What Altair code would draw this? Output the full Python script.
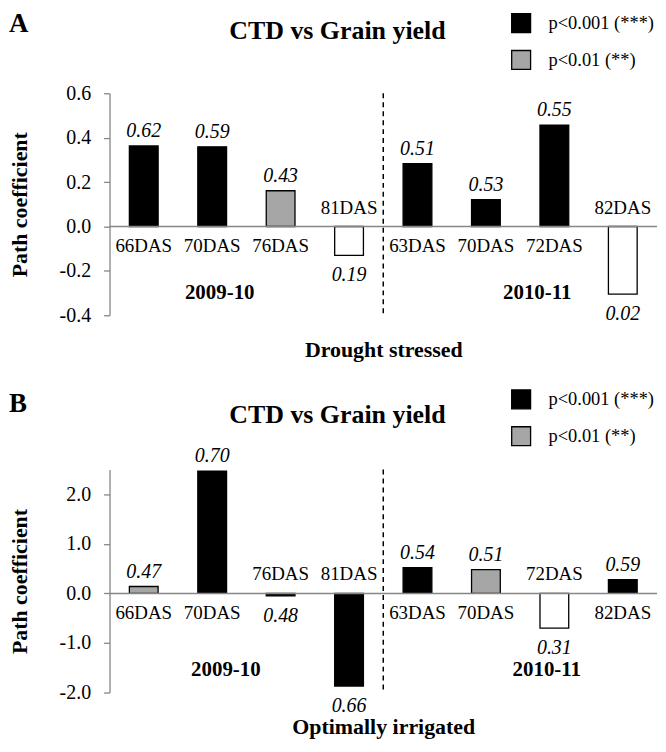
import altair as alt
import pandas as pd

# ---------------- data ----------------
stages = ["66DAS", "70DAS", "76DAS", "81DAS", "63DAS", "70DAS", "72DAS", "82DAS"]
seasons = ["2009-10", "2010-11"]

a_values = [0.363, 0.359, 0.161, -0.130, 0.283, 0.121, 0.457, -0.305]
a_labels = ["0.62", "0.59", "0.43", "0.19", "0.51", "0.53", "0.55", "0.02"]
a_sig = ["***", "***", "**", "ns", "***", "***", "***", "ns"]

b_values = [0.14, 2.47, -0.05, -1.87, 0.52, 0.48, -0.70, 0.28]
b_labels = ["0.47", "0.70", "0.48", "0.66", "0.54", "0.51", "0.31", "0.59"]
b_sig = ["**", "***", "***", "***", "***", "**", "ns", "***"]

sig_names = {"***": "p<0.001 (***)", "**": "p<0.01 (**)", "ns": "n.s."}
fill_domain = ["p<0.001 (***)", "p<0.01 (**)", "n.s."]
fill_range = ["#000000", "#a6a6a6", "#ffffff"]

FONT = "Liberation Serif"
GRAY = "#868686"
W = 550


def panel(values, labels, sig, ydomain, yticks, height, xtitle, letter,
          letter_y, title_y, year_x, year_y):
    df = pd.DataFrame({
        "stage": stages,
        "value": values,
        "label": labels,
        "sig": [sig_names[s] for s in sig],
        "pos": list(range(len(stages))),
    })
    df["x0"] = df["pos"] + 0.29
    df["x1"] = df["pos"] + 0.71
    df["xc"] = df["pos"] + 0.5
    df["zero"] = 0.0

    xs = alt.Scale(domain=[0, 8], nice=False, zero=False)
    ys = alt.Scale(domain=ydomain, nice=False, zero=False)

    x_axis = alt.Axis(title=xtitle, labels=False, ticks=False, domain=False,
                      grid=False, titleY=41, titleBaseline="alphabetic")
    y_axis = alt.Axis(
        values=yticks,
        labelExpr="replace(format(datum.value, '.1f'), '\u2212', '-')",
        grid=False, title="Path coefficient", titleAngle=-90,
        titleX=-83, titleY=height / 2, titleAlign="center",
        titleBaseline="alphabetic")

    def X(field):
        return alt.X(field, scale=xs, axis=x_axis, title=xtitle)

    def Y(field):
        return alt.Y(field, scale=ys, axis=y_axis, title="Path coefficient")

    base = alt.Chart(df)

    bars = base.mark_bar(stroke="black", strokeWidth=1.3).encode(
        x=X("x0:Q"),
        x2="x1:Q",
        y=Y("value:Q"),
        y2=alt.datum(0),
        fill=alt.Fill("sig:N", scale=alt.Scale(domain=fill_domain, range=fill_range),
                      legend=alt.Legend(
                          title=None, values=fill_domain[:2], orient="none",
                          legendX=403, legendY=-81, symbolType="square",
                          symbolSize=361, symbolStrokeColor="black",
                          symbolStrokeWidth=1.3, labelFont=FONT,
                          labelFontSize=18.5, labelColor="black",
                          labelOffset=17, rowPadding=12, padding=0)),
    )

    zero_line = alt.Chart(pd.DataFrame({"z": [0.0]})).mark_rule(
        color=GRAY, strokeWidth=1.5).encode(y=Y("z:Q"))

    divider = alt.Chart(pd.DataFrame({"b": [4.0]})).mark_rule(
        color="black", strokeWidth=1.5, strokeDash=[5, 4]).encode(x=X("b:Q"))

    val_style = dict(font=FONT, fontSize=20, fontStyle="italic", align="center",
                     baseline="alphabetic", color="black")
    val_pos = base.transform_filter("datum.value >= 0").mark_text(dy=-9, **val_style).encode(
        x=X("xc:Q"), y=Y("value:Q"), text="label:N")
    val_neg = base.transform_filter("datum.value < 0").mark_text(dy=26, **val_style).encode(
        x=X("xc:Q"), y=Y("value:Q"), text="label:N")

    cat_style = dict(font=FONT, fontSize=19, align="center", baseline="alphabetic",
                     color="black")
    cat_pos = base.transform_filter("datum.value >= 0").mark_text(dy=26, **cat_style).encode(
        x=X("xc:Q"), y=Y("zero:Q"), text="stage:N")
    cat_neg = base.transform_filter("datum.value < 0").mark_text(dy=-13, **cat_style).encode(
        x=X("xc:Q"), y=Y("zero:Q"), text="stage:N")

    years = alt.Chart(pd.DataFrame({"season": seasons, "xp": year_x,
                                    "yp": [year_y, year_y]})).mark_text(
        font=FONT, fontSize=21, fontWeight="bold", align="center",
        baseline="alphabetic", color="black").encode(
        x=X("xp:Q"), y=Y("yp:Q"), text="season:N")

    title = alt.Chart(pd.DataFrame({"t": ["CTD vs Grain yield"]})).mark_text(
        font=FONT, fontSize=26, fontWeight="bold", align="center",
        baseline="alphabetic", color="black").encode(
        x=alt.value(W / 2 - 46), y=alt.value(title_y), text="t:N")

    letter_mark = alt.Chart(pd.DataFrame({"t": [letter]})).mark_text(
        font=FONT, fontSize=27, fontWeight="bold", align="left",
        baseline="alphabetic", color="black").encode(
        x=alt.value(-101), y=alt.value(letter_y), text="t:N")

    return alt.layer(bars, zero_line, divider, val_pos, val_neg, cat_pos, cat_neg,
                     years, title, letter_mark).properties(width=W, height=height)


panel_a = panel(a_values, a_labels, a_sig, [-0.4, 0.6], [-0.4, -0.2, 0.0, 0.2, 0.4, 0.6],
                223, "Drought stressed", "A", -62, -55, [1.61, 6.25], -0.327)
panel_b = panel(b_values, b_labels, b_sig, [-2.0, 2.5], [-2.0, -1.0, 0.0, 1.0, 2.0],
                224, "Optimally irrigated", "B", -58, -47, [1.70, 6.39], -1.667)

chart = alt.vconcat(panel_a, panel_b, spacing=155, bounds="flush").resolve_scale(
    x="independent", y="independent", fill="independent").resolve_legend(
    fill="independent").properties(padding=0).configure_view(
    stroke=None).configure_axis(
    labelFont=FONT, labelFontSize=20, labelColor="black", labelPadding=13,
    tickSize=6, tickColor=GRAY, tickWidth=1.3, domainColor=GRAY, domainWidth=1.3,
    titleFont=FONT, titleFontSize=22, titleFontWeight="bold", titleColor="black")

chart.save("out.html", embed_options={"renderer": "svg", "actions": False})
